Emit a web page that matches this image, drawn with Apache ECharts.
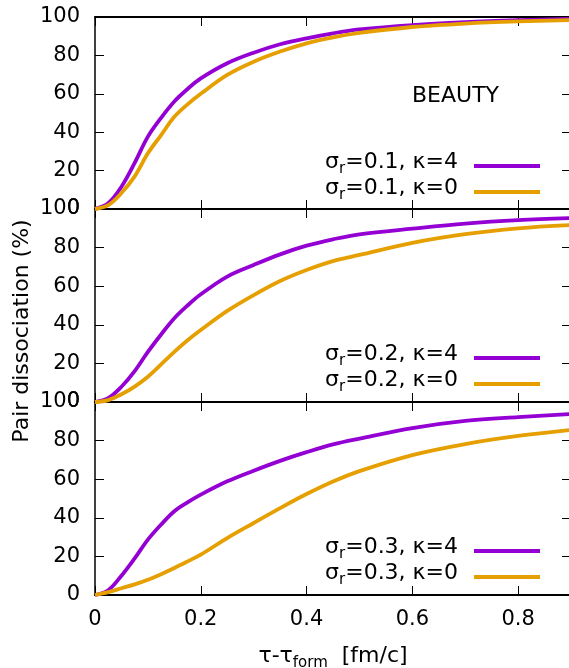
<!DOCTYPE html>
<html>
<head>
  <meta charset="utf-8">
  <style>
    html, body { margin: 0; padding: 0; width: 100%; height: 100%; overflow: hidden; background: #fff; }
  </style>
  <script src="https://cdn.jsdelivr.net/npm/echarts@6.0.0/dist/echarts.min.js"></script>
</head>
<body>
  <div id="container" style="width:569px;height:668px;"></div>
  <script>
    // x sample points (tau - tau_form, fm/c)
    var tau = [0, 0.025, 0.05, 0.075, 0.1, 0.125, 0.15, 0.175, 0.2, 0.25, 0.3, 0.35, 0.4, 0.45, 0.5, 0.6, 0.7, 0.8, 0.9];

    // pair dissociation (%)
    var s01k4 = [0, 3, 11.6, 24, 37.7, 47.5, 56, 62.5, 68, 75.9, 81.4, 85.8, 88.9, 91.5, 93.5, 95.8, 97.3, 98.3, 99];
    var s01k0 = [0, 2, 8.3, 17, 29, 38.5, 48, 54.5, 60, 69.8, 76.7, 82, 86.3, 89.4, 91.7, 94.8, 96.6, 97.7, 98.4];
    var s02k4 = [0, 2, 7.9, 16, 26, 35, 43.4, 50, 55.8, 65, 71, 76.5, 81, 84.3, 86.9, 89.8, 92.4, 94.2, 95.3];
    var s02k0 = [0, 1, 4, 8, 13.1, 19.5, 26, 32, 37.3, 47.2, 55.4, 62.7, 68.4, 73, 76.2, 82.5, 87, 90, 91.7];
    var s03k4 = [0, 2.5, 10, 19, 28.7, 36.5, 43.4, 48, 52, 58.9, 64.4, 69.5, 74, 78, 81, 86.5, 90.2, 92.2, 93.8];
    var s03k0 = [0, 1.5, 3.5, 5.5, 7.9, 10.8, 14, 17.4, 20.9, 29.5, 37.3, 45, 52.3, 58.8, 64.2, 72.5, 78.2, 82.4, 85.5];

    var sigmas = ['0.1', '0.2', '0.3'];
    var kappas = ['4', '0'];
    var panelData = [[s01k4, s01k0], [s02k4, s02k0], [s03k4, s03k0]];
    var yTicks = [0, 20, 40, 60, 80, 100];
    var xTicks = [0, 0.2, 0.4, 0.6, 0.8];

    var colors = ['#9400d3', '#e69f00'];
    var FONT = 'DejaVu Sans';
    var panelTop = [17, 209, 402];
    var panelH = [192, 193, 193];

    var dom = document.getElementById('container');
    var myChart = echarts.init(dom, null, { renderer: 'canvas' });

    var grid = [], xAxis = [], yAxis = [], series = [], legend = [];

    function xAx(i, pos, labels) {
      return {
        gridIndex: i, type: 'value', position: pos,
        min: 0, max: 0.9, interval: 0.2,
        axisLine: { show: true, onZero: false, lineStyle: { color: '#000', width: 2 } },
        axisTick: { show: true, inside: true, length: 9, lineStyle: { color: '#000', width: 1 } },
        axisLabel: {
          show: labels, margin: 14, showMaxLabel: false,
          color: '#000', fontSize: 21, fontFamily: FONT,
          formatter: function (v) {
            return xTicks.indexOf(Math.round(v * 10) / 10) >= 0 ? String(Math.round(v * 10) / 10) : '';
          }
        },
        splitLine: { show: false }
      };
    }
    function yAx(i, pos, labels) {
      return {
        gridIndex: i, type: 'value', position: pos,
        min: yTicks[0], max: yTicks[yTicks.length - 1], interval: 20,
        axisLine: { show: true, onZero: false, lineStyle: { color: '#000', width: 1.5 } },
        axisTick: { show: true, inside: true, length: 9, lineStyle: { color: '#000', width: 1 } },
        axisLabel: { show: labels, margin: 15, color: '#000', fontSize: 21, fontFamily: FONT },
        splitLine: { show: false }
      };
    }

    // subscript: main text lifted with bottom padding, small text sits at the bottom
    var legendRich = {
      t: { fontSize: 22, fontFamily: FONT, color: '#000', lineHeight: 22, padding: [0, 0, 8, 0] },
      s: { fontSize: 15, fontFamily: FONT, color: '#000', lineHeight: 6, verticalAlign: 'bottom' },
      e: { fontSize: 22, fontFamily: FONT, color: '#000', lineHeight: 22, padding: [0, 11, 8, 0] }
    };

    for (var i = 0; i < 3; i++) {
      grid.push({ left: 95, top: panelTop[i], width: 476, height: panelH[i], outerBoundsMode: 'none' });
      xAxis.push(xAx(i, 'bottom', i === 2));
      xAxis.push(xAx(i, 'top', false));
      yAxis.push(yAx(i, 'left', true));
      yAxis.push(yAx(i, 'right', false));

      var names = [];
      for (var k = 0; k < 2; k++) {
        var nm = 'σr=' + sigmas[i] + ', κ=' + kappas[k];
        names.push(nm);
        series.push({
          name: nm, type: 'line',
          xAxisIndex: 2 * i, yAxisIndex: 2 * i,
          data: tau.map(function (t, j) { return [t, panelData[i][k][j]]; }),
          smooth: 0.35, showSymbol: false, symbol: 'none',
          lineStyle: { color: colors[k], width: 3.8 },
          itemStyle: { color: colors[k] },
          z: 2 + k
        });
      }
      legend.push({
        data: names, orient: 'vertical', align: 'right',
        right: 24, top: panelTop[i] + 129,
        icon: 'rect', itemWidth: 66, itemHeight: 4, itemGap: -4,
        selectedMode: false,
        textStyle: { rich: legendRich },
        formatter: function (name) {
          var rest = name.slice(2);
          return '{t|σ}{s|r}{e|' + rest + '}';
        }
      });
    }

    xAxis[4].name = '{t|τ-τ}{s|form}{t|  [fm/c]}';
    xAxis[4].nameLocation = 'middle';
    xAxis[4].nameGap = 54;
    xAxis[4].nameTextStyle = {
      rich: {
        t: { fontSize: 22, fontFamily: FONT, color: '#000', lineHeight: 22, padding: [0, 0, 8, 0] },
        s: { fontSize: 15, fontFamily: FONT, color: '#000', lineHeight: 6, verticalAlign: 'bottom' }
      }
    };

    var option = {
      animation: false,
      backgroundColor: '#fff',
      grid: grid,
      xAxis: xAxis,
      yAxis: yAxis,
      legend: legend,
      series: series,
      graphic: [
        {
          type: 'text', x: 22, y: 331, rotation: Math.PI / 2,
          style: {
            text: 'Pair dissociation (%)', fontSize: 22, fontFamily: FONT, fill: '#000',
            align: 'center', verticalAlign: 'middle'
          }
        },
        {
          type: 'text', x: 412, y: 96,
          style: { text: 'BEAUTY', fontSize: 22, fontFamily: FONT, fill: '#000', align: 'left', verticalAlign: 'middle' }
        }
      ]
    };

    myChart.setOption(option);
    window.addEventListener('resize', myChart.resize);
  </script>
</body>
</html>
